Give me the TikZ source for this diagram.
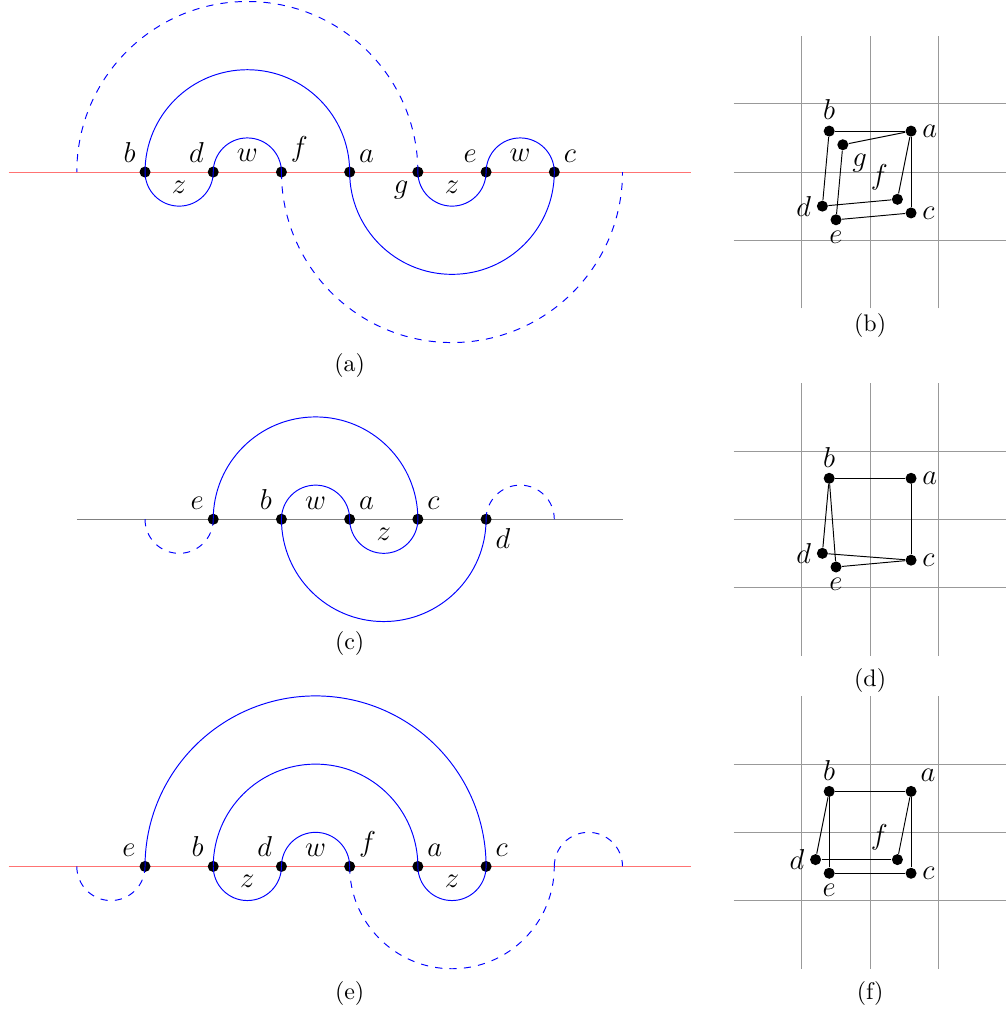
\documentclass[tikz,border=0pt]{standalone}
\usepackage{tikz}
\usetikzlibrary{positioning}
\usepackage{amsmath,amssymb}

\begin{document}
\begin{tikzpicture}[
        pt/.style={circle, fill=black, inner sep=0pt, minimum size=4.6pt},
        every label/.style={font=\large, inner sep=2pt},
        arclbl/.style={font=\large},
        arcline/.style={blue},
        dashline/.style={blue, dashed},
        redline/.style={red!55},
        grayline/.style={gray},
        gridline/.style={gray!80},
        edge/.style={black}
    ]
    \useasboundingbox (-2.126,-12.27) rectangle (12.61,2.522);

    % Top left diagram (a)
    \draw[redline] (-2,0) -- (8,0);
    \node[pt, label={above left:$b$}] (b1) at (0,0) {};
    \node[pt, label={above left:$d$}] (d1) at (1,0) {};
    \node[pt, label={above right:$f$}] (f1) at (2,0) {};
    \node[pt, label={above right:$a$}] (a1) at (3,0) {};
    \node[pt, label={below left:$g$}] (g1) at (4,0) {};
    \node[pt, label={above left:$e$}] (e1) at (5,0) {};
    \node[pt, label={above right:$c$}] (c1) at (6,0) {};
    \node[arclbl] (w1) at (1.5,0.24) {$w$};
    \node[arclbl] (z1) at (0.5,-0.22) {$z$};
    \node[arclbl] (w1b) at (5.5,0.24) {$w$};
    \node[arclbl] (z1b) at (4.5,-0.22) {$z$};
    \draw[arcline] (b1.center) arc[start angle=180, end angle=360, radius=0.5];
    \draw[arcline] (d1.center) arc[start angle=180, end angle=0, radius=0.5];
    \draw[arcline] (b1.center) arc[start angle=180, end angle=0, radius=1.5];
    \draw[arcline] (g1.center) arc[start angle=180, end angle=360, radius=0.5];
    \draw[arcline] (e1.center) arc[start angle=180, end angle=0, radius=0.5];
    \draw[arcline] (a1.center) arc[start angle=180, end angle=360, radius=1.5];
    \draw[dashline] (g1.center) arc[start angle=0, end angle=180, radius=2.5];
    \draw[dashline] (f1.center) arc[start angle=180, end angle=360, radius=2.5];
    \node (capa) at (3,-2.84) {(a)};

    % Top right grid (b)
    \begin{scope}[shift={(10.63,0)}]
        \foreach \i in {-1,0,1} {
            \draw[gridline] (\i,-2) -- (\i,2);
            \draw[gridline] (-2,\i) -- (2,\i);
        }
        \node[pt, label={above:$b$}] (b2) at (-0.6,0.6) {};
        \node[pt, label={right:$a$}] (a2) at (0.6,0.6) {};
        \node[pt, label={below right:$g$}] (g2) at (-0.4,0.4) {};
        \node[pt, label={above left:$f$}] (f2) at (0.4,-0.4) {};
        \node[pt, label={left:$d$}] (d2) at (-0.7,-0.5) {};
        \node[pt, label={right:$c$}] (c2) at (0.6,-0.6) {};
        \node[pt, label={below:$e$}] (e2) at (-0.5,-0.7) {};
        \draw[edge] (b2) -- (a2);
        \draw[edge] (b2) -- (d2);
        \draw[edge] (g2) -- (a2);
        \draw[edge] (g2) -- (e2);
        \draw[edge] (a2) -- (f2);
        \draw[edge] (a2) -- (c2);
        \draw[edge] (d2) -- (f2);
        \draw[edge] (e2) -- (c2);
        \node (capb) at (0,-2.25) {(b)};
    \end{scope}

    % Middle left diagram (c)
    \begin{scope}[shift={(0,-5.09)}]
        \draw[grayline] (-1,0) -- (7,0);
        \coordinate (l3) at (0,0);
        \coordinate (r3) at (6,0);
        \node[pt, label={above left:$e$}] (e3) at (1,0) {};
        \node[pt, label={above left:$b$}] (b3) at (2,0) {};
        \node[pt, label={above right:$a$}] (a3) at (3,0) {};
        \node[pt, label={above right:$c$}] (c3) at (4,0) {};
        \node[pt, label={below right:$d$}] (d3) at (5,0) {};
        \node[arclbl] (w3) at (2.5,0.24) {$w$};
        \node[arclbl] (z3) at (3.5,-0.22) {$z$};
        \draw[arcline] (e3.center) arc[start angle=180, end angle=0, radius=1.5];
        \draw[arcline] (b3.center) arc[start angle=180, end angle=0, radius=0.5];
        \draw[arcline] (a3.center) arc[start angle=180, end angle=360, radius=0.5];
        \draw[arcline] (b3.center) arc[start angle=180, end angle=360, radius=1.5];
        \draw[dashline] (l3) arc[start angle=180, end angle=360, radius=0.5];
        \draw[dashline] (d3.center) arc[start angle=180, end angle=0, radius=0.5];
        \node (capc) at (3,-1.82) {(c)};
    \end{scope}

    % Middle right grid (d)
    \begin{scope}[shift={(10.63,-5.09)}]
        \foreach \i in {-1,0,1} {
            \draw[gridline] (\i,-2) -- (\i,2);
            \draw[gridline] (-2,\i) -- (2,\i);
        }
        \node[pt, label={above:$b$}] (b4) at (-0.6,0.6) {};
        \node[pt, label={right:$a$}] (a4) at (0.6,0.6) {};
        \node[pt, label={left:$d$}] (d4) at (-0.7,-0.5) {};
        \node[pt, label={right:$c$}] (c4) at (0.6,-0.6) {};
        \node[pt, label={below:$e$}] (e4) at (-0.5,-0.7) {};
        \draw[edge] (b4) -- (a4);
        \draw[edge] (a4) -- (c4);
        \draw[edge] (b4) -- (d4);
        \draw[edge] (b4) -- (e4);
        \draw[edge] (d4) -- (c4);
        \draw[edge] (e4) -- (c4);
        \node (capd) at (0,-2.36) {(d)};
    \end{scope}

    % Bottom left diagram (e)
    \begin{scope}[shift={(0,-10.18)}]
        \draw[redline] (-2,0) -- (8,0);
        \coordinate (l5) at (-1,0);
        \coordinate (m5) at (6,0);
        \coordinate (r5) at (7,0);
        \node[pt, label={above left:$e$}] (e5) at (0,0) {};
        \node[pt, label={above left:$b$}] (b5) at (1,0) {};
        \node[pt, label={above left:$d$}] (d5) at (2,0) {};
        \node[pt, label={above right:$f$}] (f5) at (3,0) {};
        \node[pt, label={above right:$a$}] (a5) at (4,0) {};
        \node[pt, label={above right:$c$}] (c5) at (5,0) {};
        \node[arclbl] (w5) at (2.5,0.24) {$w$};
        \node[arclbl] (z5) at (1.5,-0.22) {$z$};
        \node[arclbl] (z5b) at (4.5,-0.22) {$z$};
        \draw[arcline] (e5.center) arc[start angle=180, end angle=0, radius=2.5];
        \draw[arcline] (b5.center) arc[start angle=180, end angle=0, radius=1.5];
        \draw[arcline] (d5.center) arc[start angle=180, end angle=0, radius=0.5];
        \draw[arcline] (b5.center) arc[start angle=180, end angle=360, radius=0.5];
        \draw[arcline] (a5.center) arc[start angle=180, end angle=360, radius=0.5];
        \draw[dashline] (l5) arc[start angle=180, end angle=360, radius=0.5];
        \draw[dashline] (f5.center) arc[start angle=180, end angle=360, radius=1.5];
        \draw[dashline] (m5) arc[start angle=180, end angle=0, radius=0.5];
        \node (cape) at (3,-1.86) {(e)};
    \end{scope}

    % Bottom right grid (f)
    \begin{scope}[shift={(10.63,-9.68)}]
        \foreach \i in {-1,0,1} {
            \draw[gridline] (\i,-2) -- (\i,2);
            \draw[gridline] (-2,\i) -- (2,\i);
        }
        \node[pt, label={above:$b$}] (b6) at (-0.6,0.6) {};
        \node[pt, label={above right:$a$}] (a6) at (0.6,0.6) {};
        \node[pt, label={left:$d$}] (d6) at (-0.8,-0.4) {};
        \node[pt, label={above left:$f$}] (f6) at (0.4,-0.4) {};
        \node[pt, label={right:$c$}] (c6) at (0.6,-0.6) {};
        \node[pt, label={below:$e$}] (e6) at (-0.6,-0.6) {};
        \draw[edge] (b6) -- (a6);
        \draw[edge] (b6) -- (d6);
        \draw[edge] (b6) -- (e6);
        \draw[edge] (a6) -- (f6);
        \draw[edge] (a6) -- (c6);
        \draw[edge] (d6) -- (f6);
        \draw[edge] (e6) -- (c6);
        \node (capf) at (0,-2.36) {(f)};
    \end{scope}
\end{tikzpicture}
\end{document}
